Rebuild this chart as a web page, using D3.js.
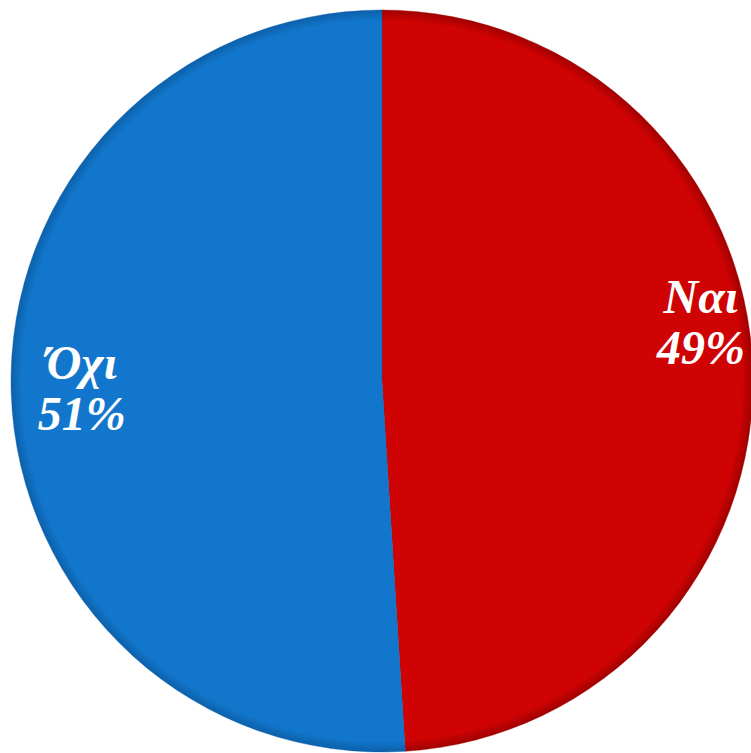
<!DOCTYPE html>
<html><head><meta charset="utf-8">
<script src="https://cdn.jsdelivr.net/npm/d3@7"></script>
<style>html,body{margin:0;padding:0;background:#fff;overflow:hidden}</style>
</head><body>
<svg id="c" width="751" height="753"></svg>
<script>
const categories = ["Ναι", "Όχι"];
const values = [49, 51];
const colors = ["#CF0303", "#1277CC"];
const darkColors = ["#A00000", "#0C60AA"];

const svg = d3.select("#c");
const cx = 382, cy = 381, r = 371;
const g = svg.append("g").attr("transform", `translate(${cx},${cy})`);

const defs = svg.append("defs");
categories.forEach((c, i) => {
  const gr = defs.append("radialGradient").attr("id", "g" + i)
    .attr("gradientUnits", "userSpaceOnUse").attr("cx", 0).attr("cy", 0).attr("r", r);
  gr.append("stop").attr("offset", "0%").attr("stop-color", colors[i]);
  gr.append("stop").attr("offset", "97%").attr("stop-color", colors[i]);
  gr.append("stop").attr("offset", "100%").attr("stop-color", darkColors[i]);
});

const pie = d3.pie().sort(null).value(d => d)(values);
const arc = d3.arc().innerRadius(0).outerRadius(r);

g.selectAll("path.s").data(pie).join("path").attr("class", "s")
  .attr("d", arc)
  .attr("fill", (d, i) => `url(#g${i})`)
  .attr("stroke", (d, i) => darkColors[i])
  .attr("stroke-width", 1)
  .attr("stroke-opacity", 0.4);

const labelR = [0.86, 0.81];
const labelShift = [-51, -4];
const lab = g.selectAll("g.l").data(pie).join("g").attr("class", "l")
  .attr("transform", (d, i) => {
    const [x, y] = d3.arc().innerRadius(r * labelR[i]).outerRadius(r * labelR[i]).centroid(d);
    return `translate(${x},${y + labelShift[i]})`;
  });
lab.append("text").attr("text-anchor", "middle").attr("y", -7)
  .text((d, i) => categories[i]);
lab.append("text").attr("text-anchor", "middle").attr("y", 44)
  .text(d => d.data + "%");
lab.selectAll("text")
  .attr("fill", "#fff")
  .attr("font-family", "'Liberation Serif', 'DejaVu Serif', serif")
  .attr("font-style", "italic")
  .attr("font-weight", "bold")
  .attr("font-size", 48);
</script>
</body></html>
